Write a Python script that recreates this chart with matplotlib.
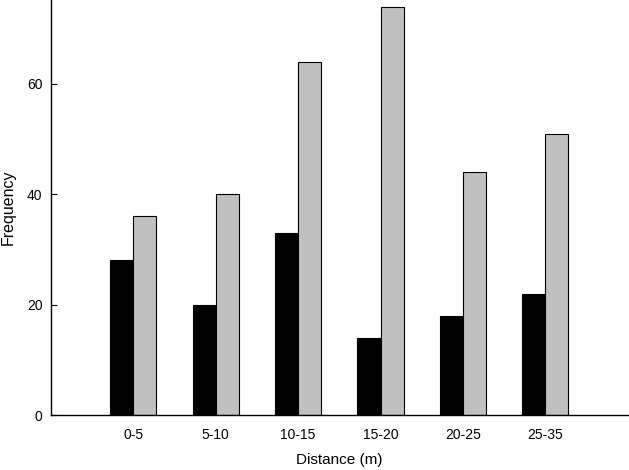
import numpy as np
import matplotlib
matplotlib.use('Agg')
import matplotlib.pyplot as plt

categories = ['0-5', '5-10', '10-15', '15-20', '20-25', '25-35']
series_black = [28, 20, 33, 14, 18, 22]
series_grey = [36, 40, 64, 74, 44, 51]

plt.rcParams['font.family'] = ['Liberation Sans', 'DejaVu Sans']

fig = plt.figure(figsize=(6.29, 4.70), dpi=100)
ax = fig.add_axes([0.081, 0.117, 0.917, 0.883])

x = np.arange(len(categories))
w = 0.28
ax.bar(x - w / 2, series_black, width=w, color='black', edgecolor='black', linewidth=0.8)
ax.bar(x + w / 2, series_grey, width=w, color='#c0c0c0', edgecolor='black', linewidth=0.8)

ax.set_xlim(-1, len(categories))
ax.set_ylim(0, 75.2)
ax.set_xticks(x)
ax.set_xticklabels(categories, fontsize=10)
ax.set_yticks([0, 20, 40, 60])
ax.tick_params(axis='y', direction='in', length=4, labelsize=10, pad=6)
ax.tick_params(axis='x', length=0, pad=9)

for s in ['top', 'right']:
    ax.spines[s].set_visible(False)
for s in ['left', 'bottom']:
    ax.spines[s].set_linewidth(1.0)

ax.set_xlabel('Distance (m)', fontsize=11, labelpad=8)
ax.set_ylabel('Frequency', fontsize=11.5, labelpad=8)

fig.savefig('out.png', dpi=100)
